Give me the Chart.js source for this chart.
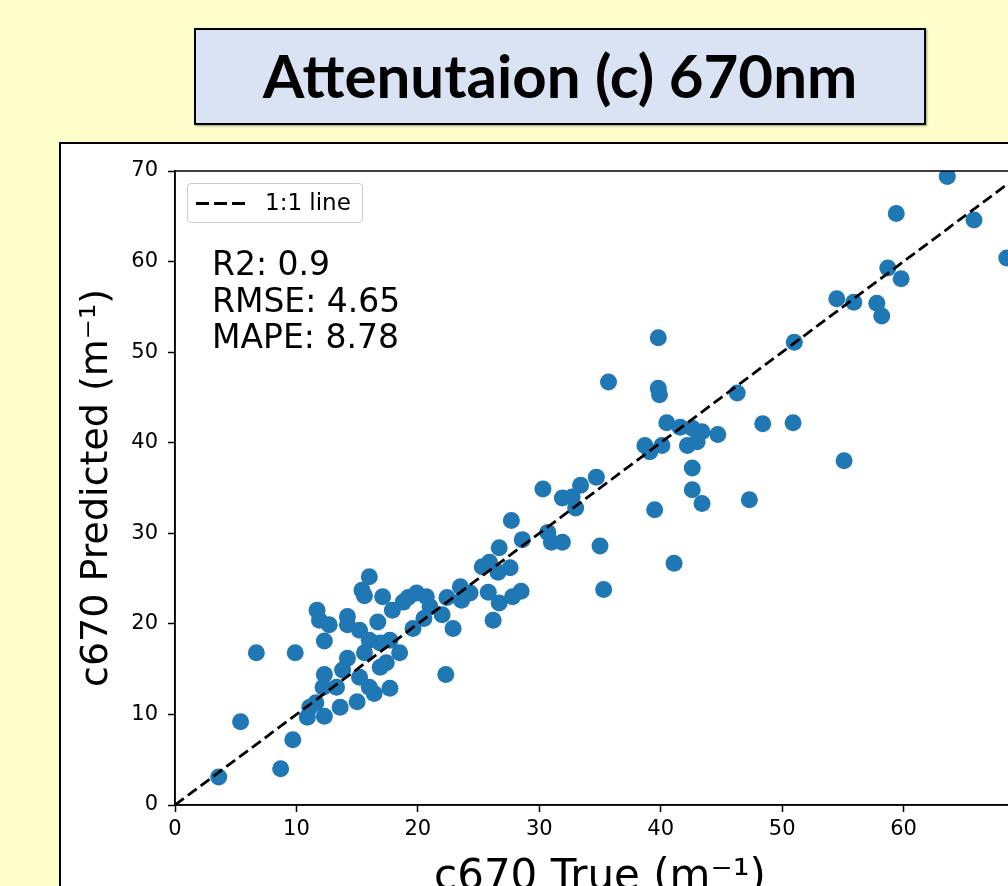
<!DOCTYPE html>
<html lang="en">
<head>
<meta charset="UTF-8">
<title>Attenutaion (c) 670nm</title>
<style>
    html, body {
        margin: 0;
        padding: 0;
        width: 1008px;
        height: 886px;
        overflow: hidden;
        background-color: #FFFFCC;
        font-family: "DejaVu Sans", sans-serif;
    }

    #titleBox {
        position: absolute;
        left: 194px;
        top: 28px;
        width: 732px;
        height: 97px;
        box-sizing: border-box;
        border: 2px solid #000;
        background-color: #DAE3F3;
        box-shadow: 1px 1px 2px rgba(0,0,0,0.4);
        display: flex;
        align-items: center;
        justify-content: center;
        padding-bottom: 4px;
        font-family: Lato, "Open Sans", sans-serif;
        font-weight: 700;
        font-size: 60px;
        color: #000;
    }

    #panel {
        position: absolute;
        left: 59px;
        top: 142px;
        width: 1100px;
        height: 800px;
        background-color: #fff;
        border: 2px solid #000;
    }

    #chartWrap {
        position: absolute;
        left: 60px;
        top: 143px;
        width: 1000px;
        height: 780px;
    }

    /* legend + stats sit over the chart area */
    #legendBox {
        position: absolute;
        left: 187px;
        top: 183px;
        width: 176px;
        height: 40px;
        box-sizing: border-box;
        border: 1px solid #ccc;
        border-radius: 4px;
        background: rgba(255,255,255,0.8);
    }
    #legendBox .swatch {
        position: absolute;
        left: 8px;
        top: 18px;
        width: 49px;
        height: 3px;
        background: repeating-linear-gradient(90deg, #000 0 13px, transparent 13px 18px);
    }
    #legendBox .lbl {
        position: absolute;
        left: 77px;
        top: 5px;
        font-size: 23px;
        line-height: 27px;
        color: #000;
    }

    #stats {
        position: absolute;
        left: 212px;
        top: 246px;
        font-size: 33px;
        line-height: 36.5px;
        color: #000;
        white-space: pre;
    }
</style>
<script src="https://cdn.jsdelivr.net/npm/chart.js"></script>
</head>
<body>
    <div id="titleBox">Attenutaion (c) 670nm</div>
    <div id="panel"></div>
    <div id="chartWrap"><canvas id="scatterChart" width="1000" height="780"></canvas></div>
    <div id="legendBox"><div class="swatch"></div><div class="lbl">1:1 line</div></div>
    <div id="stats">R2: 0.9
RMSE: 4.65
MAPE: 8.78</div>

<script>
    // c670 values
    const trueVals = [
        3.6, 5.4, 6.7, 8.7, 9.7, 9.9, 10.9, 11.1, 11.6, 12.3,
        11.7, 11.9, 12.7, 12.3, 12.3, 12.2, 13.3, 13.6, 13.8, 14.2,
        14.2, 14.2, 15.0, 15.2, 15.4, 15.6, 16.0, 15.6, 15.2, 16.0,
        16.4, 16.0, 16.9, 16.7, 17.1, 16.9, 17.4, 17.7, 17.7, 17.9,
        18.5, 18.8, 19.2, 19.6, 19.9, 20.5, 20.7, 21.0, 22.0, 22.3,
        22.4, 22.9, 23.5, 23.6, 24.3, 25.3, 25.9, 25.8, 26.6, 26.2,
        26.7, 26.7, 27.6, 27.7, 27.8, 28.5, 28.6, 30.3, 30.7, 31.0,
        31.9, 31.9, 32.7, 33.0, 33.4, 34.7, 35.0, 35.3, 35.7, 38.7,
        39.1, 39.5, 39.8, 39.8, 39.9, 40.1, 40.5, 41.1, 41.6, 42.2,
        42.6, 43.0, 43.4, 42.6, 42.6, 43.4, 44.7, 46.3, 47.3, 48.4,
        50.9, 51.0, 54.5, 55.1, 55.9, 57.8, 58.2, 58.7, 59.4, 59.8,
        63.6, 65.8, 68.5
    ];
    const predVals = [
        3.1, 9.2, 16.8, 4.0, 7.2, 16.8, 9.7, 10.8, 11.3, 9.8,
        21.5, 20.4, 19.9, 18.1, 14.4, 13.0, 13.0, 10.8, 14.9, 16.2,
        20.8, 19.9, 11.4, 19.3, 23.7, 23.1, 25.2, 16.8, 14.1, 13.0,
        12.3, 18.2, 17.9, 20.2, 23.0, 15.2, 15.7, 18.2, 12.9, 21.5,
        16.8, 22.4, 22.9, 19.5, 23.4, 20.6, 23.0, 21.9, 21.0, 14.4,
        22.9, 19.5, 24.1, 22.6, 23.4, 26.3, 26.8, 23.5, 25.7, 20.4,
        28.4, 22.3, 26.2, 31.4, 23.0, 23.6, 29.3, 34.9, 30.1, 29.0,
        29.0, 33.9, 34.0, 32.8, 35.3, 36.2, 28.6, 23.8, 46.7, 39.7,
        39.0, 32.6, 51.6, 46.0, 45.3, 39.7, 42.2, 26.7, 41.7, 39.7,
        41.6, 40.1, 41.2, 37.2, 34.8, 33.3, 40.9, 45.5, 33.7, 42.1,
        42.2, 51.1, 55.9, 38.0, 55.5, 55.4, 54.0, 59.3, 65.3, 58.1,
        69.4, 64.6, 60.4
    ];
    const oneToOneX = [0, 70];
    const oneToOneY = [0, 70];
    const axisTicks = [0, 10, 20, 30, 40, 50, 60, 70];

    const points = trueVals.map((v, i) => ({ x: v, y: predVals[i] }));
    const linePts = oneToOneX.map((v, i) => ({ x: v, y: oneToOneY[i] }));

    // frame round the plot area (top and right spines too)
    const spines = {
        id: 'spines',
        afterDatasetsDraw(chart) {
            const a = chart.chartArea, ctx = chart.ctx;
            ctx.save();
            ctx.strokeStyle = '#000';
            ctx.lineWidth = 1.5;
            ctx.strokeRect(a.left, a.top, a.right - a.left, a.bottom - a.top);
            ctx.restore();
        }
    };

    const tickFont = { family: 'DejaVu Sans', size: 21 };

    new Chart(document.getElementById('scatterChart').getContext('2d'), {
        type: 'scatter',
        data: {
            datasets: [
                {
                    type: 'line',
                    label: '1:1 line',
                    data: linePts,
                    borderColor: '#000',
                    borderWidth: 2.8,
                    borderDash: [11, 5],
                    pointRadius: 0,
                    fill: false,
                    order: 0
                },
                {
                    label: 'c670',
                    data: points,
                    backgroundColor: '#1f77b4',
                    borderWidth: 0,
                    pointRadius: 8.5,
                    pointHoverRadius: 8.5,
                    clip: 0,
                    order: 1
                }
            ]
        },
        options: {
            responsive: false,
            animation: false,
            layout: { padding: { top: 28, right: 35, left: 0, bottom: 0 } },
            plugins: { legend: { display: false }, tooltip: { enabled: false } },
            scales: {
                x: {
                    type: 'linear',
                    min: 0, max: 70,
                    afterBuildTicks: s => { s.ticks = axisTicks.map(v => ({ value: v })); },
                    afterFit: s => { s.height = 118; },
                    ticks: { font: tickFont, color: '#000', padding: 5, maxRotation: 0 },
                    grid: { drawOnChartArea: false, drawTicks: true, tickLength: 7, tickColor: '#000', tickWidth: 1.5 },
                    border: { display: true, color: '#000', width: 1.5 },
                    title: { display: true, text: 'c670 True (m⁻¹)', font: { family: 'DejaVu Sans', size: 42 }, color: '#000', padding: { top: 0, bottom: 20 } }
                },
                y: {
                    type: 'linear',
                    min: 0, max: 70,
                    afterBuildTicks: s => { s.ticks = axisTicks.map(v => ({ value: v })); },
                    afterFit: s => { s.width = 115; },
                    ticks: { font: tickFont, color: '#000', padding: 10 },
                    grid: { drawOnChartArea: false, drawTicks: true, tickLength: 7, tickColor: '#000', tickWidth: 1.5 },
                    border: { display: true, color: '#000', width: 1.5 },
                    title: { display: true, text: 'c670 Predicted (m⁻¹)', font: { family: 'DejaVu Sans', size: 38 }, color: '#000', padding: { top: 14, bottom: 0 } }
                }
            }
        },
        plugins: [spines]
    });
</script>
</body>
</html>
